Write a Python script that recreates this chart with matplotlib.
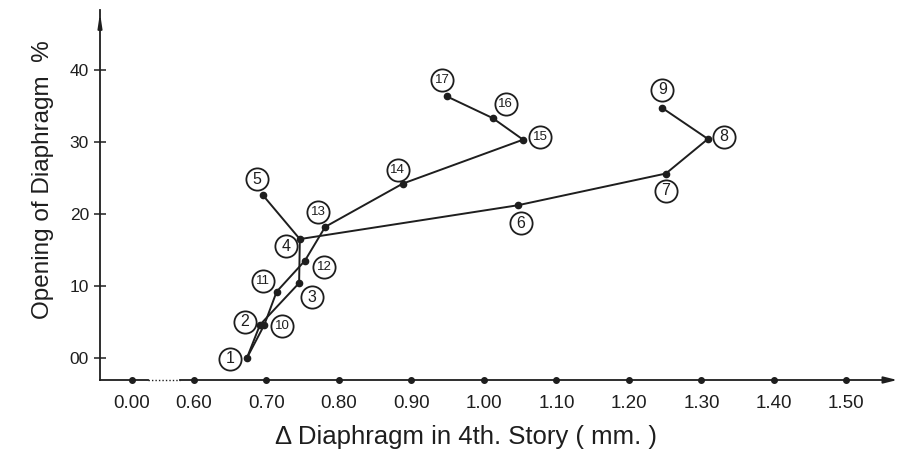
import matplotlib.pyplot as plt
from matplotlib.transforms import offset_copy

# point number -> (delta diaphragm mm, opening %)
pt_id = list(range(1, 18))
pt_x = [0.673, 0.691, 0.745, 0.746, 0.695, 1.047, 1.251, 1.309, 1.246,
        0.697, 0.714, 0.753, 0.781, 0.888, 1.054, 1.012, 0.949]
pt_y = [0.0, 4.6, 10.4, 16.5, 22.6, 21.2, 25.6, 30.4, 34.7,
        4.6, 9.2, 13.5, 18.2, 24.2, 30.3, 33.3, 36.3]

# line paths (by point number)
path_a = [1, 2, 3, 4, 5]
path_b = [4, 6, 7, 8, 9]
path_c = [1, 10, 11, 12, 13, 14, 15, 16, 17]

# label offsets in pixels (dx right, dy up)
lab_dx = [-17, -15, 13, -14, -6, 3, 0, 16, 0, 18, -14, 19, -7, -5, 17, 13, -5]
lab_dy = [-1, 3, -14, -7, 16, -18, -17, 2, 18, -1, 11, -6, 15, 14, 3, 14, 16]

x_ticks = [0.5145, 0.6, 0.7, 0.8, 0.9, 1.0, 1.1, 1.2, 1.3, 1.4, 1.5]
x_labels = ["0.00", "0.60", "0.70", "0.80", "0.90", "1.00", "1.10", "1.20", "1.30", "1.40", "1.50"]
y_ticks = [0, 10, 20, 30, 40]
y_labels = ["00", "10", "20", "30", "40"]

ink = "#1e1e1e"
plt.rcParams['font.family'] = ['Liberation Sans', 'DejaVu Sans']

fig = plt.figure(figsize=(9.03, 4.55), dpi=100)
ax = fig.add_axes([100 / 903, 75 / 455, 800 / 903, 370 / 455])
ax.set_xlim(0.4703, 1.574)
ax.set_ylim(-3.06, 48.3)

for s in ["top", "right", "bottom"]:
    ax.spines[s].set_visible(False)
ax.spines["left"].set_color(ink)
ax.spines["left"].set_linewidth(1.3)

# x axis line with break between 0.00 and 0.60
y0 = -3.06
ax.plot([0.4703, 0.5366], [y0, y0], color=ink, lw=1.3, clip_on=False)
ax.plot([0.5366, 0.581], [y0, y0], color=ink, lw=1.0, ls=(0, (1, 1.5)), clip_on=False)
ax.plot([0.581, 1.555], [y0, y0], color=ink, lw=1.3, clip_on=False)
ax.annotate("", xy=(1.574, y0), xytext=(1.548, y0),
            arrowprops=dict(arrowstyle="-|>,head_length=0.8,head_width=0.2", color=ink, lw=1.3),
            annotation_clip=False)
ax.annotate("", xy=(0.4703, 48.3), xytext=(0.4703, 45.5),
            arrowprops=dict(arrowstyle="-|>,head_length=0.8,head_width=0.12", color=ink, lw=1.3),
            annotation_clip=False)
ax.plot(x_ticks, [y0] * len(x_ticks), "o", color=ink, ms=4, clip_on=False)

ax.set_xticks(x_ticks)
ax.set_xticklabels(x_labels, fontsize=13.5, color=ink)
ax.set_yticks(y_ticks)
ax.set_yticklabels(y_labels, fontsize=12.5, color=ink)
ax.tick_params(axis="x", length=0, pad=11)
ax.tick_params(axis="y", direction="inout", length=8, width=1.1, color=ink, pad=4)


def coords(path):
    return [pt_x[i - 1] for i in path], [pt_y[i - 1] for i in path]


for path in (path_a, path_b, path_c):
    xs, ys = coords(path)
    ax.plot(xs, ys, color=ink, lw=1.4)
ax.plot(pt_x, pt_y, "o", color=ink, ms=4.5, ls="none")

for i, n in enumerate(pt_id):
    tr = offset_copy(ax.transData, fig=fig, x=lab_dx[i], y=lab_dy[i], units="dots")
    ax.plot([pt_x[i]], [pt_y[i]], "o", ms=16, mfc="white", mec=ink, mew=1.3,
            transform=tr, clip_on=False, zorder=4)
    fs = 11.5 if n < 10 else 9.5
    ax.text(pt_x[i], pt_y[i], str(n), transform=tr, ha="center", va="center",
            fontsize=fs, color=ink, zorder=5)

fig.text(43 / 903, 1 - 180 / 455, "Opening of Diaphragm  %", rotation=90,
         ha="center", va="center", fontsize=17.5, color=ink)
fig.text(466 / 903, 1 - 437 / 455, "\u0394 Diaphragm in 4th. Story ( mm. )",
         ha="center", va="center", fontsize=18.5, color=ink)

fig.savefig("out.png", dpi=100)
